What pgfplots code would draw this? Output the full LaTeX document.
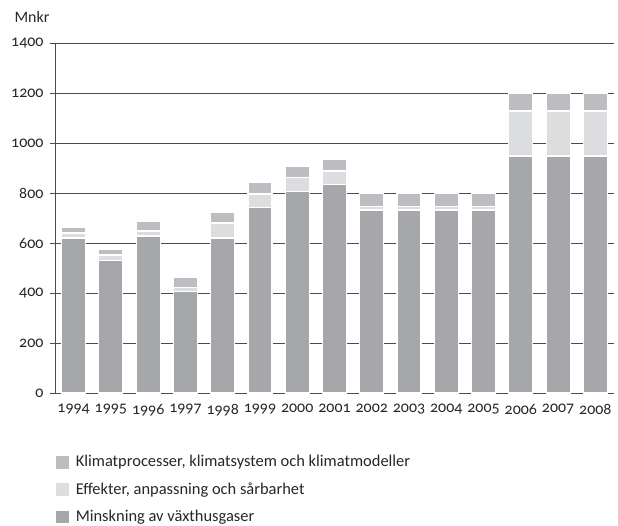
\documentclass[border=0pt]{standalone}
\usepackage{fontspec}
\setmainfont[Numbers=OldStyle]{Carlito}
\usepackage{pgfplots}
\pgfplotsset{compat=1.18}
\usepackage{pgfplotstable}

\definecolor{minsk}{HTML}{A6A7AA}
\definecolor{effekt}{HTML}{DCDDDF}
\definecolor{klimat}{HTML}{BCBDC0}
\definecolor{gridc}{HTML}{4A4A4A}

% year index, Minskning, Effekter, Klimatprocesser
\pgfplotstableread{
x  year minsk effekt klimat
0  1994 620   20     22
1  1995 530   22     23
2  1996 628   20     37
3  1997 405   18     38
4  1998 620   60     44
5  1999 743   53     45
6  2000 807   54     44
7  2001 835   53     47
8  2002 732   14     52
9  2003 732   14     52
10 2004 732   14     52
11 2005 732   14     52
12 2006 948   180    72
13 2007 948   180    72
14 2008 948   180    72
}\budget

\begin{document}
\fontsize{16}{19}\selectfont
\begin{tikzpicture}
\useasboundingbox (-55bp,-133bp) rectangle (563bp,393bp);
\begin{axis}[
  scale only axis,
  width=559bp, height=350bp,
  clip=false,
  ybar stacked,
  bar width=24bp,
  xmin=-0.5, xmax=14.5,
  ymin=0, ymax=1400,
  ytick={0,200,...,1400},
  xtick={0,1,...,14},
  xticklabel={\hbox{\pgfmathtruncatemacro\yr{1994+\tick}\yr}},
  yticklabel={\hbox{\pgfmathtruncatemacro\yv{\tick}\yv}},
  axis x line*=bottom,
  axis y line*=left,
  axis line style={gridc, line width=0.8bp, -},
  x axis line style={shorten <=-5bp},
  xtick style={draw=none},
  ytick style={gridc, line width=0.8bp},
  tick align=outside,
  major tick length=5bp,
  ymajorgrids,
  major grid style={gridc, line width=0.8bp},
  yticklabel style={xshift=-1bp},
  xticklabel style={yshift=-1bp},
  tick label style={text=black!85, font=\fontsize{16}{19}\selectfont},
  legend style={draw=none, fill=none, at={(0,-0.172)}, anchor=north west,
    cells={anchor=west}, row sep=9.5bp, font=\fontsize{16.5}{19}\selectfont,
    text=black!85, inner sep=0pt, xshift=1bp,
    /tikz/every odd column/.style={column sep=5bp}},
  reverse legend,
  legend image code/.code={\fill[#1, draw=none] (0bp,-6.3bp) rectangle (12.6bp,6.3bp);},
  every axis plot/.append style={draw=white, line width=1.2bp},
]
\addplot[fill=minsk] table[x=x, y=minsk] {\budget};
\addplot[fill=effekt] table[x=x, y=effekt] {\budget};
\addplot[fill=klimat] table[x=x, y=klimat] {\budget};
\legend{Minskning av växthusgaser, {Effekter, anpassning och sårbarhet}, {Klimatprocesser, klimatsystem och klimatmodeller}}
\node[anchor=west, text=black!85, xshift=-46bp, yshift=26bp] at (rel axis cs:0,1) {Mnkr};
\end{axis}
\end{tikzpicture}
\end{document}
